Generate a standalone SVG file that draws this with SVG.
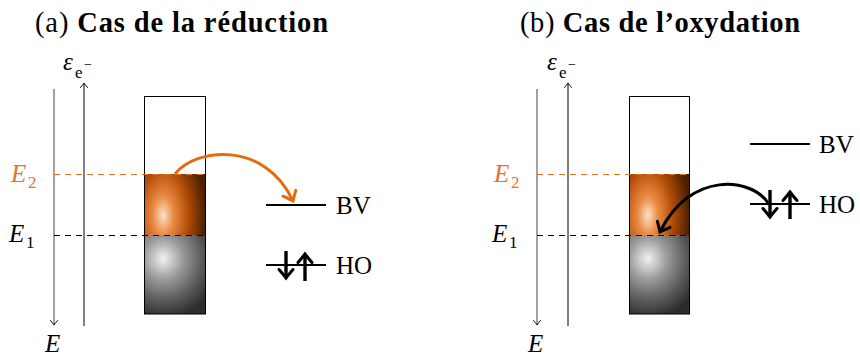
<svg xmlns="http://www.w3.org/2000/svg" width="860" height="358" viewBox="0 0 860 358">
<style>
text{font-family:"Liberation Serif","Times New Roman",serif;fill:#000}
.title{font-size:28.5px}
.b{font-weight:bold}
.lab{font-size:25px;font-style:italic}
.sub{font-size:17px;font-style:normal}
.lvl{font-size:25px}
.org{fill:#E8731E}
.axis{stroke:#444;stroke-width:1;fill:none}
.ax2{stroke:#000;stroke-width:1;fill:none}
.dashK{stroke:#000;stroke-width:1;stroke-dasharray:6 5;fill:none}
.dashO{stroke:#E8731E;stroke-width:1;stroke-dasharray:6 5;fill:none}
.level{stroke:#000;stroke-width:2;fill:none}
.spin{stroke:#000;stroke-width:3.4;fill:none}
.arcO{stroke:#E46C0A;stroke-width:3;fill:none}
.arcK{stroke:#000;stroke-width:3;fill:none}
.box{fill:none;stroke:#000;stroke-width:1}
</style>
<defs>
<marker id="thin" markerUnits="userSpaceOnUse" markerWidth="12" markerHeight="12" viewBox="-8 -6 10 12" refX="0" refY="0" orient="auto">
<path d="M-4.5,-3.5 Q-1.2,-0.8 0,0 Q-1.2,0.8 -4.5,3.5" fill="none" stroke="#000" stroke-width="0.9" stroke-linecap="round"/>
</marker>
<marker id="thickK" markerUnits="userSpaceOnUse" markerWidth="22" markerHeight="22" viewBox="-13 -11 15 22" refX="0" refY="0" orient="auto">
<path d="M-8.5,-7 Q-2.2,-1.6 0,0 Q-2.2,1.6 -8.5,7" fill="none" stroke="#000" stroke-width="3" stroke-linecap="round"/>
</marker>
<marker id="thickO" markerUnits="userSpaceOnUse" markerWidth="22" markerHeight="22" viewBox="-13 -11 15 22" refX="0" refY="0" orient="auto">
<path d="M-8.5,-7 Q-2.2,-1.6 0,0 Q-2.2,1.6 -8.5,7" fill="none" stroke="#E46C0A" stroke-width="3" stroke-linecap="round"/>
</marker>
<radialGradient id="gOrange" cx="0.31" cy="0.68" r="0.85" gradientTransform="translate(0.31 0.68) scale(0.8 1.5) translate(-0.31 -0.68)">
<stop offset="0" stop-color="#FCE0C8"/>
<stop offset="0.25" stop-color="#EA8A42"/>
<stop offset="0.6" stop-color="#B24C06"/>
<stop offset="1" stop-color="#4A2000"/>
</radialGradient>
<radialGradient id="gGray" cx="0.31" cy="0.3" r="0.9" gradientTransform="translate(0.31 0.3) scale(1 0.85) translate(-0.31 -0.3)">
<stop offset="0" stop-color="#F2F2F2"/>
<stop offset="0.35" stop-color="#9A9A9A"/>
<stop offset="0.7" stop-color="#5A5A5A"/>
<stop offset="1" stop-color="#2C2C2C"/>
</radialGradient>
</defs>

<!-- Panel (a) -->
<g id="title-a"><text class="title" x="35" y="32" textLength="293" lengthAdjust="spacing">(a) <tspan class="b">Cas de la réduction</tspan></text></g>
<g id="axes-a">
<line class="axis" x1="54" y1="89" x2="54" y2="325" marker-end="url(#thin)"/>
<line class="ax2" x1="84" y1="326" x2="84" y2="83" marker-end="url(#thin)"/>
<text class="lab" x="63" y="70">ε<tspan class="sub" x="75" y="78">e</tspan><tspan class="sub" style="font-size:14px" x="84" y="69">−</tspan></text>
<text class="lab" x="45" y="352">E</text>
</g>
<g id="box-a">
<rect x="144" y="96" width="62" height="218" fill="#fff" stroke="none"/>
<rect x="144" y="174" width="62" height="61" fill="url(#gOrange)"/>
<rect x="144" y="235" width="62" height="79" fill="url(#gGray)"/>
<rect class="box" x="144.5" y="96.5" width="61" height="217.5"/>
</g>
<g id="E2-a">
<line class="dashO" x1="54" y1="174.5" x2="206" y2="174.5"/>
<text class="lab org" x="11" y="182">E<tspan class="sub org" x="28" y="188">2</tspan></text>
</g>
<g id="E1-a">
<line class="dashK" x1="54" y1="235.5" x2="206" y2="235.5"/>
<text class="lab" x="9" y="242">E<tspan class="sub" x="26" y="248">1</tspan></text>
</g>
<g id="BV-a">
<line class="level" x1="266" y1="205" x2="326" y2="205"/>
<text class="lvl" x="336" y="214">BV</text>
</g>
<g id="HO-a">
<line class="level" x1="266" y1="265" x2="326" y2="265"/>
<line class="spin" x1="286" y1="251" x2="286" y2="278" marker-end="url(#thickK)"/>
<line class="spin" x1="305" y1="281" x2="305" y2="254" marker-end="url(#thickK)"/>
<text class="lvl" x="336" y="274">HO</text>
</g>

<!-- Panel (b) -->
<g id="title-b"><text class="title" x="520" y="32" textLength="280" lengthAdjust="spacing">(b) <tspan class="b">Cas de l’oxydation</tspan></text></g>
<g id="axes-b">
<line class="axis" x1="537" y1="89" x2="537" y2="325" marker-end="url(#thin)"/>
<line class="ax2" x1="568" y1="326" x2="568" y2="83" marker-end="url(#thin)"/>
<text class="lab" x="547" y="70">ε<tspan class="sub" x="559" y="78">e</tspan><tspan class="sub" style="font-size:14px" x="568" y="69">−</tspan></text>
<text class="lab" x="528" y="352">E</text>
</g>
<g id="box-b">
<rect x="629" y="96" width="61" height="218" fill="#fff" stroke="none"/>
<rect x="629" y="174" width="61" height="61" fill="url(#gOrange)"/>
<rect x="629" y="235" width="61" height="79" fill="url(#gGray)"/>
<rect class="box" x="629.5" y="96.5" width="60" height="217.5"/>
</g>
<g id="E2-b">
<line class="dashO" x1="537" y1="174.5" x2="690" y2="174.5"/>
<text class="lab org" x="494" y="182">E<tspan class="sub org" x="511" y="188">2</tspan></text>
</g>
<g id="E1-b">
<line class="dashK" x1="537" y1="235.5" x2="690" y2="235.5"/>
<text class="lab" x="492" y="242">E<tspan class="sub" x="509" y="248">1</tspan></text>
</g>
<g id="BV-b">
<line class="level" x1="750" y1="144" x2="810" y2="144"/>
<text class="lvl" x="819" y="153">BV</text>
</g>
<g id="HO-b">
<line class="level" x1="750" y1="204" x2="810" y2="204"/>
<line class="spin" x1="770" y1="190" x2="770" y2="217" marker-end="url(#thickK)"/>
<line class="spin" x1="790" y1="219" x2="790" y2="192" marker-end="url(#thickK)"/>
<text class="lvl" x="819" y="213">HO</text>
</g>

<g id="connectors">
<path class="arcO" d="M175,174 C195,148 265,140 293,201" marker-end="url(#thickO)"/>
<path class="arcK" d="M768,203 C752,178 690,170 660,232" marker-end="url(#thickK)"/>
</g>
</svg>
